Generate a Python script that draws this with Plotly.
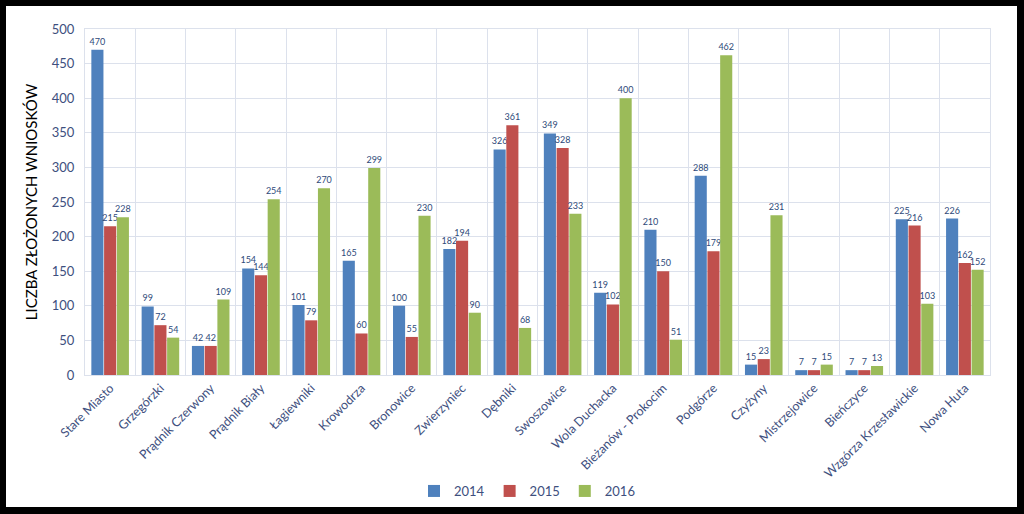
import plotly.graph_objects as go

categories = ["Stare Miasto", "Grzegórzki", "Prądnik Czerwony", "Prądnik Biały", "Łagiewniki",
              "Krowodrza", "Bronowice", "Zwierzyniec", "Dębniki", "Swoszowice", "Wola Duchacka",
              "Bieżanów - Prokocim", "Podgórze", "Czyżyny", "Mistrzejowice", "Bieńczyce",
              "Wzgórza Krzesławickie", "Nowa Huta"]
v2014 = [470, 99, 42, 154, 101, 165, 100, 182, 326, 349, 119, 210, 288, 15, 7, 7, 225, 226]
v2015 = [215, 72, 42, 144, 79, 60, 55, 194, 361, 328, 102, 150, 179, 23, 7, 7, 216, 162]
v2016 = [228, 54, 109, 254, 270, 299, 230, 90, 68, 233, 400, 51, 462, 231, 15, 13, 103, 152]
series_names = ["2014", "2015", "2016"]
colors = ["#4F81BD", "#C0504D", "#9BBB59"]
y_ticks = [0, 50, 100, 150, 200, 250, 300, 350, 400, 450, 500]

FONT = "Lato"
label_color = "#2E4A7A"
tick_color = "#3E4F7E"

fig = go.Figure()
for name, vals, col in zip(series_names, [v2014, v2015, v2016], colors):
    fig.add_trace(go.Bar(
        x=categories, y=vals, name=name,
        marker=dict(color=col, line=dict(width=0)),
        text=[str(v) for v in vals], textposition="outside",
        textfont=dict(size=9, color=label_color, family=FONT),
        constraintext="none", cliponaxis=False,
    ))

L, R, T, B = 85, 990, 29, 375
W, H = 1024, 514
pw, ph = R - L, B - T

fig.add_shape(type="rect", xref="paper", yref="paper",
              x0=(6 - L) / pw, x1=(1017 - L) / pw,
              y0=(B - 507) / ph, y1=(B - 6) / ph,
              fillcolor="white", line=dict(width=0), layer="below")

fig.update_layout(
    width=W, height=H,
    margin=dict(l=L, r=W - R, t=T, b=H - B, autoexpand=False),
    paper_bgcolor="black", plot_bgcolor="white",
    barmode="group", bargap=0.24, bargroupgap=0.05,
    font=dict(family=FONT, color=tick_color),
    showlegend=True,
    legend=dict(orientation="h", x=(527 - L) / pw, xanchor="center",
                y=(B - 491) / ph, yanchor="middle",
                font=dict(size=13, color="#3E4F7E", family=FONT),
                bgcolor="rgba(0,0,0,0)", itemwidth=30, traceorder="normal"),
)
fig.update_xaxes(
    type="category", tickson="boundaries", showgrid=True, gridcolor="#DCE1EC", gridwidth=1,
    tickangle=-45, tickfont=dict(size=12.5, color=tick_color, family=FONT),
    ticks="", showline=True, linecolor="#DCE1EC", mirror=True, automargin=False,
)
fig.update_yaxes(
    range=[0, 500], tickvals=y_ticks, showgrid=True, gridcolor="#DCE1EC", gridwidth=1,
    tickfont=dict(size=13, color=tick_color, family=FONT), ticklabelstandoff=7,
    zeroline=False, showline=True, linecolor="#DCE1EC", mirror=True, ticks="", automargin=False,
    title=dict(text="LICZBA ZŁOŻONYCH WNIOSKÓW", font=dict(size=15, color="black", family=FONT),
               standoff=10),
)
fig.write_html("out.html", post_script="document.body.style.margin='0';",
               config={"displayModeBar": False})
